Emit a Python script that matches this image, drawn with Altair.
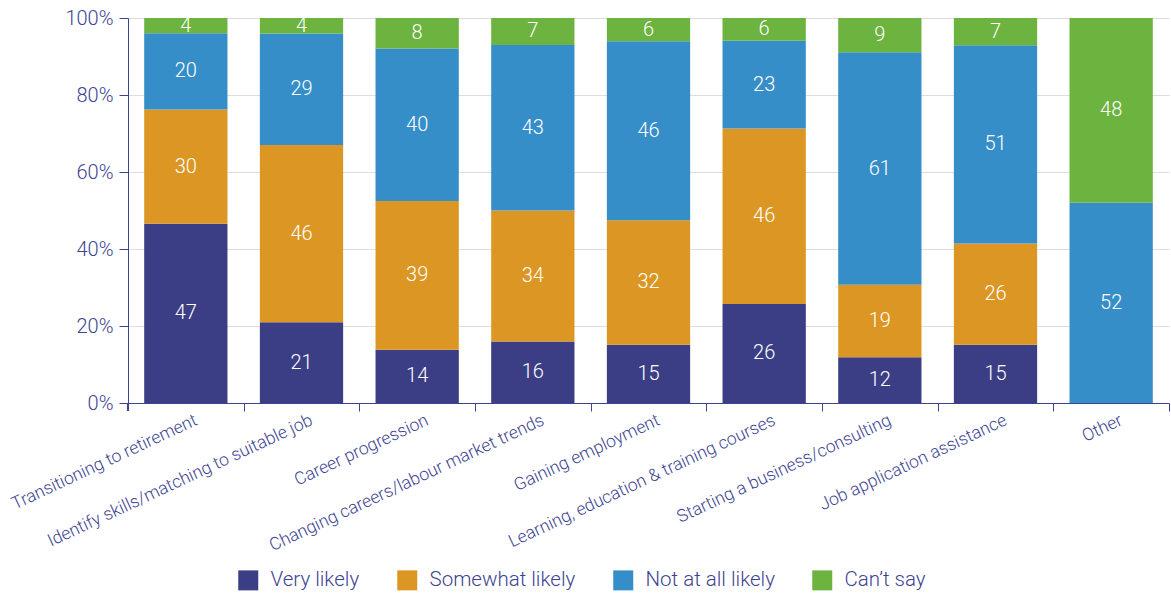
import altair as alt
import pandas as pd

categories = [
    "Transitioning to retirement",
    "Identify skills/matching to suitable job",
    "Career progression",
    "Changing careers/labour market trends",
    "Gaining employment",
    "Learning, education & training courses",
    "Starting a business/consulting",
    "Job application assistance",
    "Other",
]
very_likely = [47, 21, 14, 16, 15, 26, 12, 15, 0]
somewhat_likely = [30, 46, 39, 34, 32, 46, 19, 26, 0]
not_at_all_likely = [20, 29, 40, 43, 46, 23, 61, 51, 52]
cant_say = [4, 4, 8, 7, 6, 6, 9, 7, 48]
responses = ["Very likely", "Somewhat likely", "Not at all likely", "Can\u2019t say"]
colors = ["#3b3e85", "#dc9624", "#368ec9", "#6cb33f"]
navy = "#3d4391"

series = [very_likely, somewhat_likely, not_at_all_likely, cant_say]
rows = []
for i, c in enumerate(categories):
    for j, r in enumerate(responses):
        rows.append({"category": c, "response": r, "rank": j, "value": series[j][i]})
df = pd.DataFrame(rows)

W, H = 1041, 385
step = W / len(categories)

base = (
    alt.Chart(df)
    .transform_joinaggregate(total="sum(value)", groupby=["category"])
    .transform_window(cum="sum(value)", groupby=["category"], sort=[alt.SortField("rank")])
    .transform_calculate(
        y0="(datum.cum - datum.value) / datum.total",
        y1="datum.cum / datum.total",
        ymid="(datum.cum - datum.value / 2) / datum.total",
    )
)

x_enc = alt.X(
    "category:N",
    sort=categories,
    scale=alt.Scale(paddingInner=0.28, paddingOuter=0.14),
    axis=alt.Axis(
        title=None,
        labelAngle=-25,
        labelAlign="right",
        labelBaseline="top",
        labelFontSize=17.5,
        labelFontWeight=300,
        labelColor=navy,
        domainColor=navy,
        tickColor=navy,
        tickSize=8,
        tickOffset=step / 2,
        labelOffset=-step / 2 + 6,
        labelPadding=0,
        labelLimit=400,
        grid=False,
    ),
)

bars = base.mark_bar().encode(
    x=x_enc,
    y=alt.Y(
        "y0:Q",
        scale=alt.Scale(domain=[0, 1]),
        axis=alt.Axis(
            format="%",
            title=None,
            values=[0, 0.2, 0.4, 0.6, 0.8, 1.0],
            tickColor=navy,
            domainColor=navy,
            gridColor="#dddddd",
            labelFontSize=20,
            labelFontWeight=300,
            labelColor=navy,
            tickSize=9,
            labelPadding=6,
        ),
    ),
    y2="y1:Q",
    color=alt.Color(
        "response:N",
        scale=alt.Scale(domain=responses, range=colors),
        sort=responses,
        legend=alt.Legend(
            title=None,
            orient="none",
            legendX=110,
            legendY=552,
            direction="horizontal",
            symbolType="square",
            symbolSize=400,
            symbolStrokeWidth=0,
            symbolOpacity=1,
            labelFontSize=20.5,
            labelFontWeight=300,
            labelColor=navy,
            labelOffset=12,
            columnPadding=37,
        ),
    ),
)

texts = base.transform_filter("datum.value > 0").mark_text(
    color="white", fontSize=20, fontWeight=300, baseline="middle"
).encode(
    x=alt.X("category:N", sort=categories),
    y=alt.Y("ymid:Q"),
    text=alt.Text("value:Q"),
)

left_tick = alt.Chart(df).mark_rule(color=navy).encode(
    x=alt.value(0), y=alt.value(H), y2=alt.value(H + 8)
)

chart = (
    alt.layer(bars, texts, left_tick)
    .properties(
        width=W,
        height=H,
        autosize=alt.AutoSizeParams(type="none"),
        padding={"left": 128, "top": 18, "right": 2, "bottom": 191},
    )
    .configure(font="Roboto")
    .configure_view(stroke=None)
)

chart.save("out.html", embed_options={"renderer": "svg", "actions": False})
